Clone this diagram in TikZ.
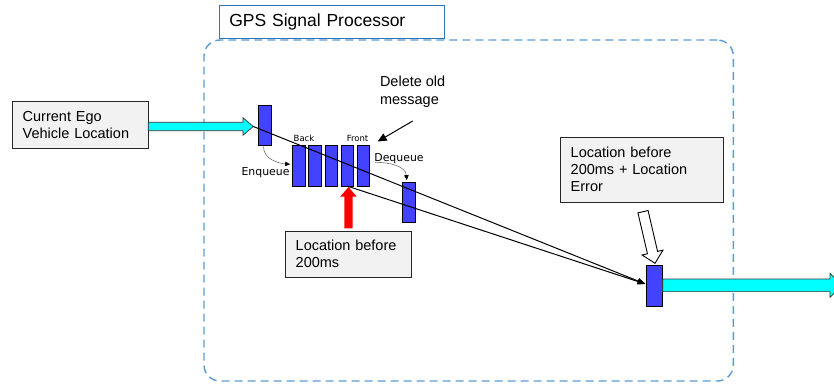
\documentclass[tikz,border=0pt]{standalone}
\usepackage{fontspec}
\setmainfont{Liberation Sans}
\newfontfamily\labelsans{DejaVu Sans}
\usetikzlibrary{calc,arrows.meta}

\definecolor{frameblue}{HTML}{5B9BD5}
\definecolor{titleblue}{HTML}{2E75B6}
\definecolor{boxgray}{HTML}{F2F2F2}
\definecolor{msgblue}{HTML}{4242FF}
\definecolor{aqua}{HTML}{00FFFF}

\begin{document}
\begin{tikzpicture}[x=1pt,y=-1pt,
  every node/.style={inner sep=0pt, outer sep=0pt},
  notebox/.style={draw=black!85, fill=boxgray, line width=0.9pt, align=left,
    inner xsep=10pt, font=\fontsize{14.5}{17}\selectfont},
  msgbar/.style={draw=black, fill=msgblue, line width=0.7pt,
    minimum width=12.3pt, minimum height=41pt},
  fatarrow/.style={draw=black!80, fill=aqua, line width=0.7pt, line join=miter},
  link/.style={draw=black, line width=1pt, -{Triangle[length=8pt,width=6pt]}},
  curl/.style={draw=black!55, line width=0.6pt, -{Triangle[length=5pt,width=4.5pt,color=black]}},
  qlabel/.style={font=\labelsans\fontsize{10.9}{12}\selectfont},
  endlabel/.style={font=\labelsans\fontsize{8.5}{10}\selectfont},
]
\useasboundingbox (0,0) rectangle (834,383);

% processor frame and its title
\node[draw=frameblue, line width=1.4pt, dash pattern=on 8pt off 5pt,
      rounded corners=16pt, minimum width=529.3pt, minimum height=341pt]
      (proc) at (468.65,210.5) {};
\node[draw=titleblue, fill=white, line width=1.2pt, minimum width=225pt,
      minimum height=32.6pt, text width=205pt, inner xsep=10pt, align=left,
      font=\fontsize{17.5}{20}\selectfont] (title) at (331.8,22) {GPS Signal Processor};

% text boxes
\node[notebox, text width=115.6pt, minimum width=135.6pt, minimum height=46.6pt]
      (ego) at (80.5,125) {Current Ego\\Vehicle Location};
\node[notebox, text width=106pt, minimum width=126pt, minimum height=46.3pt]
      (old) at (348.7,254.2) {Location before\\200ms};
\node[notebox, text width=142.6pt, minimum width=162.6pt, minimum height=65pt]
      (err) at (642,169.8) {Location before\\200ms + Location\\Error};

% message bars: incoming, queue, dequeued, output
\node[msgbar, minimum width=13pt, minimum height=40pt] (inbar) at (264.5,125) {};
\node[msgbar] (q1) at (298.8,165.5) {};
\node[msgbar] (q2) at (314.8,165.5) {};
\node[msgbar] (q3) at (331,165.5) {};
\node[msgbar] (q4) at (347,165.5) {};
\node[msgbar] (q5) at (363,165.5) {};
\node[msgbar, minimum height=39.3pt] (deq) at (408.8,202.3) {};
\node[msgbar, minimum width=16pt, minimum height=41.7pt] (outbar) at (654.7,285.8) {};

% queue labels
\node[endlabel] (back) at (304,138.5) {Back};
\node[endlabel] (front) at (357.5,138.5) {Front};
\node[qlabel] (enq) at (265.5,172.3) {Enqueue};
\node[qlabel] (dq) at (399,158.3) {Dequeue};
\node[anchor=west, align=left, font=\fontsize{14.5}{18}\selectfont]
      (del) at (380,92) {Delete old\\message};

% cyan input arrow
\coordinate (inTip) at (253.3,126.5);
\path[fatarrow] ($(ego.east |- inTip)+(0,-4.2)$) -- ($(inTip)+(-10.3,-4.2)$)
  -- ($(inTip)+(-10.3,-8.7)$) -- (inTip) -- ($(inTip)+(-10.3,8.7)$)
  -- ($(inTip)+(-10.3,4.2)$) -- ($(ego.east |- inTip)+(0,4.2)$) -- cycle;

% cyan output arrow
\coordinate (outTip) at (842,285.3);
\path[fatarrow] ($(outbar.east |- outTip)+(0,-6.3)$) -- ($(outTip)+(-12,-6.3)$)
  -- ($(outTip)+(-12,-12)$) -- (outTip) -- ($(outTip)+(-12,12)$)
  -- ($(outTip)+(-12,6.3)$) -- ($(outbar.east |- outTip)+(0,6.3)$) -- cycle;

% red arrow from the old location to the queue
\coordinate (redTip) at (348.5,187);
\coordinate (redBase) at ($(redTip |- old.north)+(0,-2.7)$);
\fill[red] ($(redBase)+(-4.1,0)$) -- ($(redTip)+(-4.1,9.7)$) -- ($(redTip)+(-8.3,9.7)$)
  -- (redTip) -- ($(redTip)+(8.3,9.7)$) -- ($(redTip)+(4.1,9.7)$)
  -- ($(redBase)+(4.1,0)$) -- cycle;

% hollow arrow from the error box to the output bar
\coordinate (hs) at (643,211.7);
\coordinate (ht) at (655,263.3);
\coordinate (hb) at ($(ht)!11pt!(hs)$);
\draw[fill=white, line width=0.9pt, line join=miter]
  ($(hs)!5.2pt!90:(ht)$) -- ($(hb)!5.2pt!-90:(hs)$) -- ($(hb)!10.7pt!-90:(hs)$)
  -- (ht) -- ($(hb)!10.7pt!90:(hs)$) -- ($(hb)!5.2pt!90:(hs)$)
  -- ($(hs)!5.2pt!-90:(ht)$) -- cycle;

% connectors
\coordinate (finIn) at (645.5,284);
\draw[link] (inTip) -- (finIn);
\draw[link] (q4.south) -- (finIn);
\coordinate (delFrom) at (412.7,121);
\draw[link, -{Triangle[length=9pt,width=8pt]}] (delFrom) -- ($(q5.north east)+(8.5,-3.5)$);
\draw[curl] ($(inbar.south)+(-1,1.5)$) to[out=-90,in=175] ($(q1.west)+(-2.5,-1.2)$);
\draw[curl] ($(q5.east)+(6,-3.2)$) to[out=0,in=95] ($(deq.north)+(-2,-2.5)$);
\end{tikzpicture}
\end{document}
